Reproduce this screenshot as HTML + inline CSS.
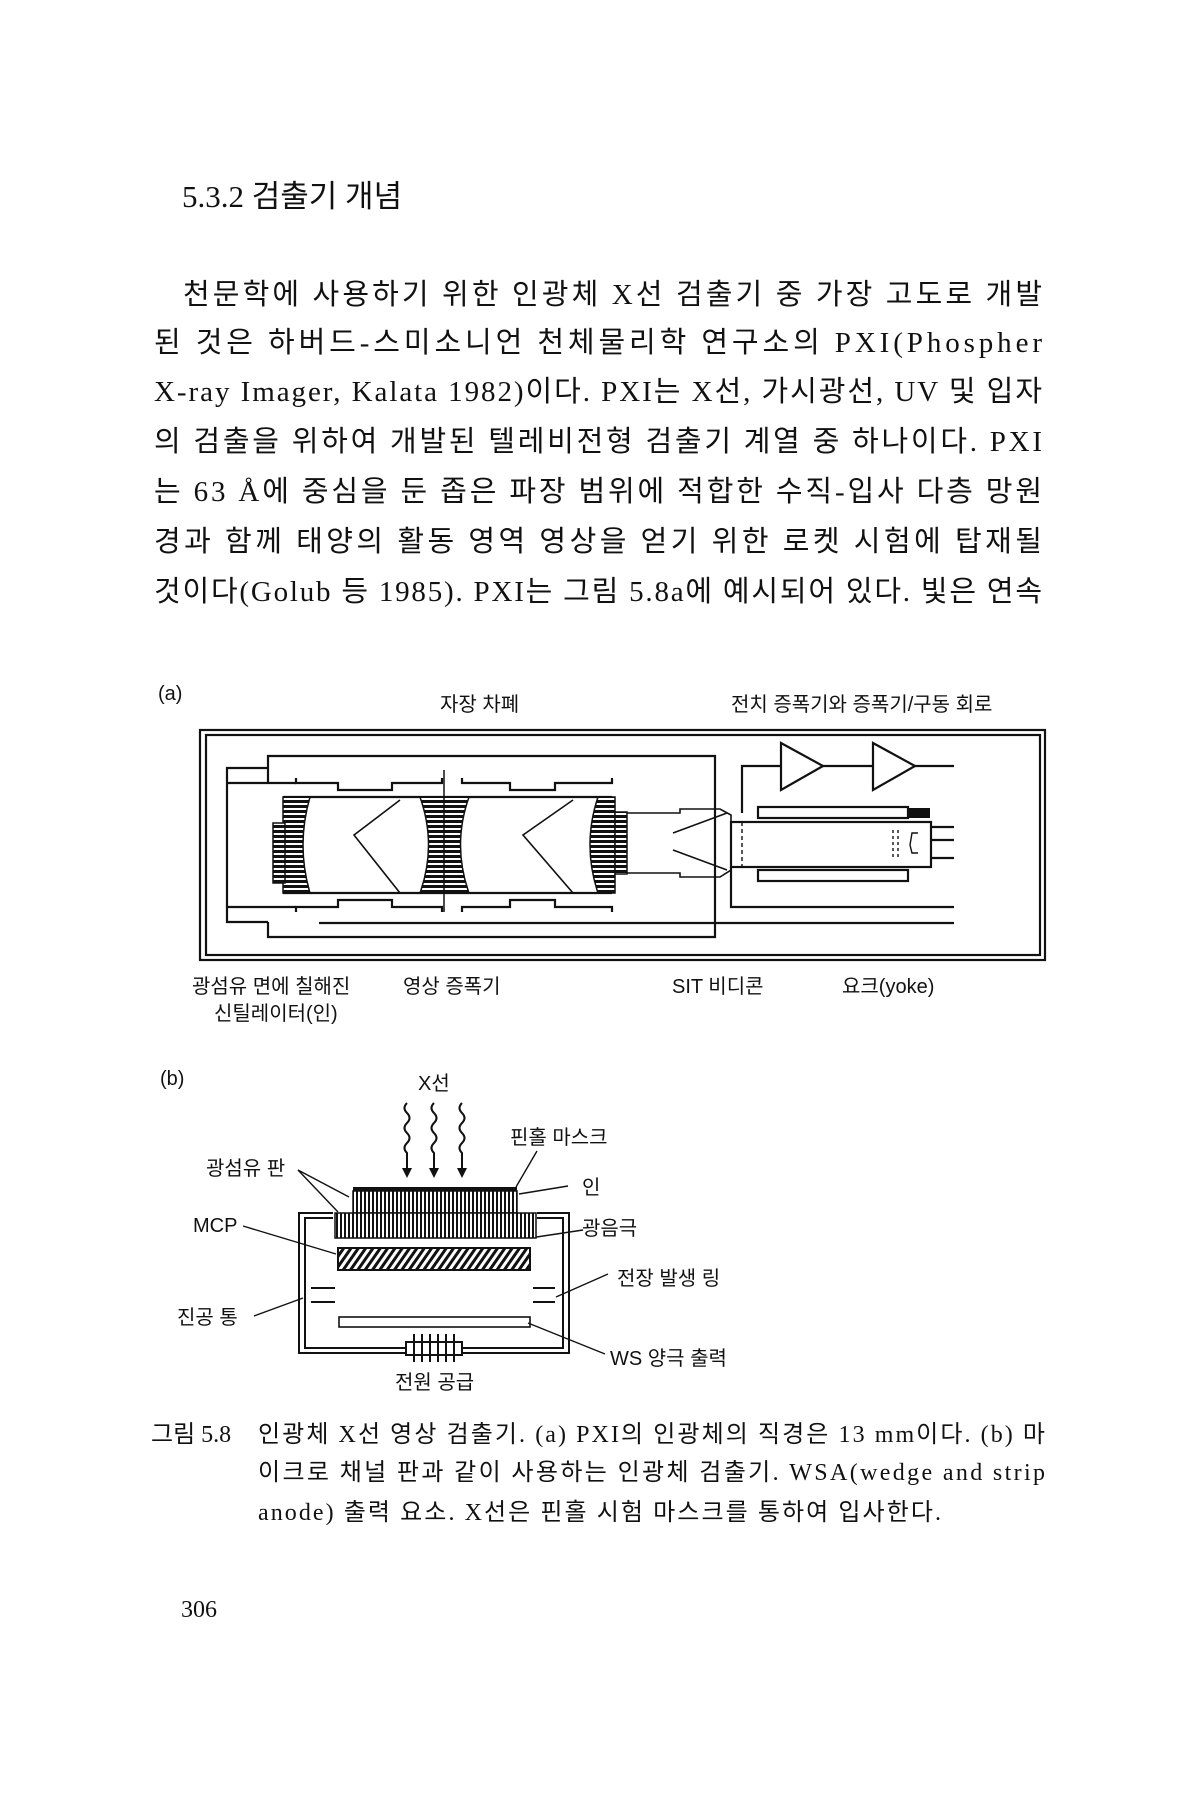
<!DOCTYPE html>
<html><head><meta charset="utf-8"><style>
html,body{margin:0;padding:0;background:#fff;}
svg{display:block;}
.t{font-family:"Liberation Serif","Noto Sans CJK KR",serif;fill:#111;}
.s{font-family:"Liberation Sans","Noto Sans CJK KR",sans-serif;fill:#111;}
</style></head><body>
<svg width="1200" height="1800" viewBox="0 0 1200 1800" xmlns="http://www.w3.org/2000/svg">
<defs>
<pattern id="hz" width="6" height="5" patternUnits="userSpaceOnUse"><rect width="6" height="5" fill="#fff"/><rect width="6" height="3" fill="#111"/></pattern>
<pattern id="vt" width="4" height="6" patternUnits="userSpaceOnUse"><rect width="4" height="6" fill="#fff"/><rect width="2" height="6" fill="#111"/></pattern>
<pattern id="dg" width="6" height="6" patternUnits="userSpaceOnUse" patternTransform="rotate(35)"><rect width="6" height="6" fill="#fff"/><rect width="3" height="6" fill="#111"/></pattern>
</defs>
<rect width="1200" height="1800" fill="#fff"/>

<text class="t" x="182" y="207" font-size="31">5.3.2  검출기 개념</text>

<g class="t" font-size="29">
<text x="183" y="304" textLength="859" lengthAdjust="spacing">천문학에 사용하기 위한 인광체 X선 검출기 중 가장 고도로 개발</text>
<text x="154" y="352" textLength="888" lengthAdjust="spacing">된 것은 하버드-스미소니언 천체물리학 연구소의 PXI(Phospher</text>
<text x="154" y="401" textLength="888" lengthAdjust="spacing">X-ray Imager, Kalata 1982)이다. PXI는 X선, 가시광선, UV 및 입자</text>
<text x="154" y="451" textLength="888" lengthAdjust="spacing">의 검출을 위하여 개발된 텔레비전형 검출기 계열 중 하나이다. PXI</text>
<text x="154" y="501" textLength="888" lengthAdjust="spacing">는 63 Å에 중심을 둔 좁은 파장 범위에 적합한 수직-입사 다층 망원</text>
<text x="154" y="551" textLength="888" lengthAdjust="spacing">경과 함께 태양의 활동 영역 영상을 얻기 위한 로켓 시험에 탑재될</text>
<text x="154" y="601" textLength="888" lengthAdjust="spacing">것이다(Golub 등 1985). PXI는 그림 5.8a에 예시되어 있다. 빛은 연속</text>
</g>

<!-- Figure (a) -->
<g class="s" font-size="20">
<text x="158" y="700">(a)</text>
<text x="440" y="711">자장 차폐</text>
<text x="731" y="711">전치 증폭기와 증폭기/구동 회로</text>
<text x="192" y="993">광섬유 면에 칠해진</text>
<text x="214" y="1020">신틸레이터(인)</text>
<text x="403" y="993">영상 증폭기</text>
<text x="672" y="993">SIT 비디콘</text>
<text x="842" y="993">요크(yoke)</text>
</g>
<g fill="none" stroke="#111" stroke-width="2.2">
<rect x="200" y="730" width="845" height="230"/>
<rect x="206" y="735" width="834" height="220"/>
<polyline points="268,783 268,756 715,756 715,937 268,937 268,922"/>
<polyline points="268,768 227,768 227,922 268,922"/>
<line x1="227" y1="783" x2="296" y2="783"/>
<line x1="227" y1="907" x2="296" y2="907"/>
<polyline points="296,778 296,783 338,783 338,790 392,790 392,783 442,783 442,778"/>
<polyline points="462,778 462,783 510,783 510,790 555,790 555,783 612,783 612,778"/>
<polyline points="296,912 296,907 338,907 338,900 392,900 392,907 442,907 442,912"/>
<polyline points="462,912 462,907 510,907 510,900 555,900 555,907 612,907 612,912"/>
<line x1="283" y1="797" x2="612" y2="797"/>
<line x1="283" y1="893" x2="612" y2="893"/>
<line x1="319" y1="923" x2="954" y2="923"/>
<polyline points="400,800 354,835 400,893" stroke-width="1.6"/>
<polyline points="573,800 523,835 573,893" stroke-width="1.6"/>
<line x1="727" y1="813" x2="673" y2="833" stroke-width="1.6"/>
<line x1="673" y1="850" x2="727" y2="870" stroke-width="1.6"/>
<polyline points="627,813 680,813 680,809 720,809 731,815 731,822" stroke-width="1.6"/>
<polyline points="627,873 680,873 680,877 720,877 731,870 731,867" stroke-width="1.6"/>
<rect x="731" y="822" width="200" height="45"/>
<line x1="742" y1="822" x2="742" y2="867" stroke-dasharray="4,3" stroke-width="1.4"/>
<rect x="758" y="807" width="150" height="11"/>
<rect x="758" y="870" width="150" height="11"/>
<line x1="931" y1="827" x2="954" y2="827"/>
<line x1="931" y1="840" x2="954" y2="840"/>
<line x1="931" y1="858" x2="954" y2="858"/>
<path d="M918,833 L912,833 L910,845 L912,853 L918,853" stroke-width="1.4"/>
<line x1="893" y1="830" x2="893" y2="860" stroke-dasharray="3,3" stroke-width="1.4"/>
<line x1="898" y1="830" x2="898" y2="860" stroke-dasharray="3,3" stroke-width="1.4"/>
<polyline points="742,813 742,766 954,766"/>
<polygon points="781,743 823,766 781,790" fill="#fff"/>
<polygon points="873,743 915,766 873,790" fill="#fff"/>
<polyline points="731,867 731,907 954,907"/>
</g>
<rect x="908" y="808" width="22" height="10" fill="#111"/>
<path d="M283,797 L310,797 Q296,845 310,893 L283,893 Z" fill="url(#hz)" stroke="#111" stroke-width="1.5"/>
<rect x="273" y="823" width="12" height="60" fill="url(#hz)" stroke="#111" stroke-width="1.5"/>
<path d="M420,797 L469,797 Q452,845 469,893 L420,893 Q437,845 420,797 Z" fill="url(#hz)" stroke="#111" stroke-width="1.5"/>
<line x1="444" y1="770" x2="444" y2="912" stroke="#111" stroke-width="1.5"/>
<path d="M598,797 L615,797 L615,893 L598,893 Q582,845 598,797 Z" fill="url(#hz)" stroke="#111" stroke-width="1.5"/>
<rect x="615" y="812" width="12" height="62" fill="url(#hz)" stroke="#111" stroke-width="1.5"/>

<!-- Figure (b) -->
<g class="s" font-size="20">
<text x="160" y="1085">(b)</text>
<text x="418" y="1090">X선</text>
<text x="510" y="1144">핀홀 마스크</text>
<text x="206" y="1175">광섬유 판</text>
<text x="582" y="1194">인</text>
<text x="193" y="1232">MCP</text>
<text x="582" y="1235">광음극</text>
<text x="617" y="1285">전장 발생 링</text>
<text x="177" y="1324">진공 통</text>
<text x="610" y="1365">WS 양극 출력</text>
<text x="395" y="1389">전원 공급</text>
</g>
<g fill="none" stroke="#111" stroke-width="2">
<path d="M407,1103 q-5,5 0,10 q5,5 0,10 q-5,5 0,10 q5,5 0,10 q-5,5 0,10 v15"/>
<path d="M434,1103 q-5,5 0,10 q5,5 0,10 q-5,5 0,10 q5,5 0,10 q-5,5 0,10 v15"/>
<path d="M462,1103 q-5,5 0,10 q5,5 0,10 q-5,5 0,10 q5,5 0,10 q-5,5 0,10 v15"/>
<polyline points="333,1213 299,1213 299,1353 406,1353"/>
<polyline points="333,1218 305,1218 305,1348 406,1348"/>
<polyline points="537,1213 569,1213 569,1353 462,1353"/>
<polyline points="537,1218 563,1218 563,1348 462,1348"/>
<rect x="339" y="1317" width="191" height="10" stroke-width="1.6"/>
<line x1="311" y1="1288" x2="335" y2="1288"/><line x1="311" y1="1302" x2="335" y2="1302"/>
<line x1="533" y1="1288" x2="555" y2="1288"/><line x1="533" y1="1302" x2="555" y2="1302"/>
<g stroke-width="1.4">
<line x1="298" y1="1170" x2="349" y2="1197"/>
<line x1="298" y1="1170" x2="338" y2="1212"/>
<line x1="537" y1="1151" x2="516" y2="1187"/>
<line x1="568" y1="1186" x2="519" y2="1194"/>
<line x1="243" y1="1226" x2="336" y2="1254"/>
<line x1="583" y1="1230" x2="530" y2="1238"/>
<line x1="608" y1="1274" x2="556" y2="1297"/>
<line x1="254" y1="1316" x2="303" y2="1298"/>
<line x1="605" y1="1354" x2="528" y2="1323"/>
</g>
</g>
<g fill="#111">
<polygon points="402,1168 412,1168 407,1178"/>
<polygon points="429,1168 439,1168 434,1178"/>
<polygon points="457,1168 467,1168 462,1178"/>
<rect x="353" y="1187" width="164" height="4"/>
</g>
<rect x="353" y="1191" width="164" height="22" fill="url(#vt)" stroke="#111" stroke-width="1.5"/>
<rect x="335" y="1213" width="201" height="25" fill="url(#vt)" stroke="#111" stroke-width="1.5"/>
<rect x="338" y="1248" width="192" height="22" fill="url(#dg)" stroke="#111" stroke-width="2"/>
<rect x="406" y="1342" width="56" height="13" fill="#fff" stroke="#111" stroke-width="2"/>
<g stroke="#111" stroke-width="2">
<line x1="414" y1="1334" x2="414" y2="1362"/><line x1="422" y1="1334" x2="422" y2="1362"/>
<line x1="430" y1="1334" x2="430" y2="1362"/><line x1="438" y1="1334" x2="438" y2="1362"/>
<line x1="446" y1="1334" x2="446" y2="1362"/><line x1="454" y1="1334" x2="454" y2="1362"/>
</g>

<g class="t" font-size="24">
<text x="151" y="1442">그림 5.8</text>
<text x="258" y="1442" textLength="787" lengthAdjust="spacing">인광체 X선 영상 검출기. (a) PXI의 인광체의 직경은 13 mm이다. (b) 마</text>
<text x="258" y="1480" textLength="787" lengthAdjust="spacing">이크로 채널 판과 같이 사용하는 인광체 검출기. WSA(wedge and strip</text>
<text x="258" y="1520" textLength="683" lengthAdjust="spacing">anode) 출력 요소. X선은 핀홀 시험 마스크를 통하여 입사한다.</text>
<text x="181" y="1617">306</text>
</g>
</svg>
</body></html>
